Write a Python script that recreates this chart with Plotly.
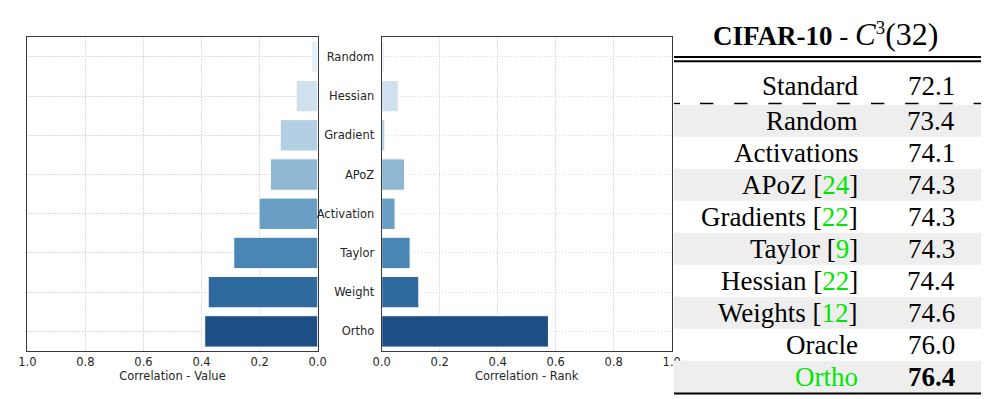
import plotly.graph_objects as go

# ---------------- data ----------------
categories = ["Random", "Hessian", "Gradient", "APoZ", "Activation", "Taylor", "Weight", "Ortho"]
corr_value = [0.021, 0.074, 0.129, 0.163, 0.202, 0.289, 0.377, 0.389]
corr_rank = [0.009, 0.057, 0.011, 0.079, 0.046, 0.098, 0.128, 0.575]
bar_colors = ["#e6eef7", "#cfe0ee", "#b3cfe3", "#8fb7d1", "#6a9ec4", "#4a86b4", "#2e6a9e", "#1d4f85"]
x_ticks = [0.0, 0.2, 0.4, 0.6, 0.8, 1.0]
x_tick_labels = ["0.0", "0.2", "0.4", "0.6", "0.8", "1.0"]

table_title = ("<b>CIFAR-10</b> - <span style='font-size:31px'><i>C</i></span>"
               "<sup>3</sup><span style='font-size:32px'>(32)</span>")
methods = ["Standard", "Random", "Activations", "APoZ", "Gradients", "Taylor", "Hessian", "Weights", "Oracle", "Ortho"]
method_refs = ["", "", "", "24", "22", "9", "22", "12", "", ""]
accuracy = [72.1, 73.4, 74.1, 74.3, 74.3, 74.3, 74.4, 74.6, 76.0, 76.4]

# ---------------- geometry helpers ----------------
W, H = 1002, 399


def px(x):
    return x / W


def py(y):
    return 1 - y / H


GREEN = "rgb(0,230,0)"
TEXT = "#262626"
GRID = "#dcdcdc"
FRAME = "#3a3a3a"
SANS = "DejaVu Sans"
SERIF = "Liberation Serif"

fig = go.Figure()

fig.add_trace(go.Bar(
    y=categories, x=corr_value, orientation="h", xaxis="x", yaxis="y",
    marker=dict(color=bar_colors, line=dict(color="white", width=1)),
    width=0.8, showlegend=False, hoverinfo="x+y",
))
fig.add_trace(go.Bar(
    y=categories, x=corr_rank, orientation="h", xaxis="x2", yaxis="y2",
    marker=dict(color=bar_colors, line=dict(color="white", width=1)),
    width=0.8, showlegend=False, hoverinfo="x+y",
))

ydom = [py(351), py(37.3)]
common_x = dict(
    tickvals=x_ticks, ticktext=x_tick_labels, showgrid=True, gridcolor=GRID,
    griddash="1.5px,1.5px", gridwidth=1, showline=True, mirror=True, linecolor=FRAME,
    linewidth=1.3, ticks="", zeroline=False, automargin=False,
    tickfont=dict(family=SANS, size=11.5, color=TEXT),
    title=dict(font=dict(family=SANS, size=11.5, color=TEXT), standoff=2),
)
common_y = dict(
    categoryorder="array", categoryarray=categories, range=[7.5, -0.5],
    showgrid=True, gridcolor=GRID, griddash="1.5px,1.5px", gridwidth=1,
    showline=True, mirror=True, linecolor=FRAME, linewidth=1.3, ticks="",
    zeroline=False, domain=ydom, automargin=False,
)

fig.update_layout(
    template="none",
    width=W, height=H, autosize=False,
    margin=dict(l=0, r=0, t=0, b=0, pad=0),
    paper_bgcolor="white", plot_bgcolor="white",
    xaxis=dict(common_x, domain=[px(27.3), px(317.7)], range=[1, 0], anchor="y",
               title_text="Correlation - Value"),
    yaxis=dict(common_y, anchor="x", showticklabels=False),
    xaxis2=dict(common_x, domain=[px(381.7), px(671.7)], range=[0, 1], anchor="y2",
                title_text="Correlation - Rank"),
    yaxis2=dict(common_y, anchor="x2", showticklabels=True,
                tickfont=dict(family=SANS, size=11.5, color=TEXT),
                ticklabelstandoff=4),
    bargap=0.2,
)

# ---------------- table ----------------
shapes = []
annotations = []
t_left, t_right = 673.5, 981
row_h = 32
first_top = 104.7

# shaded rows
for i in range(1, len(methods)):
    if i % 2 == 1:
        top = first_top + row_h * (i - 1)
        shapes.append(dict(type="rect", xref="paper", yref="paper",
                           x0=px(t_left), x1=px(t_right), y0=py(top + row_h), y1=py(top),
                           fillcolor="#eeeeee", line=dict(width=0), layer="above"))

# top double rule
for yy in (57.0, 61.2):
    shapes.append(dict(type="line", xref="paper", yref="paper",
                       x0=px(674), x1=px(t_right), y0=py(yy), y1=py(yy),
                       line=dict(color="black", width=2), layer="above"))
# bottom rule
shapes.append(dict(type="line", xref="paper", yref="paper",
                   x0=px(674), x1=px(t_right), y0=py(393.5), y1=py(393.5),
                   line=dict(color="black", width=2), layer="above"))
# dashed rule
shapes.append(dict(type="line", xref="paper", yref="paper",
                   x0=px(674), x1=px(680), y0=py(103.5), y1=py(103.5),
                   line=dict(color="black", width=1.3), layer="above"))
shapes.append(dict(type="line", xref="paper", yref="paper",
                   x0=px(700), x1=px(t_right), y0=py(103.5), y1=py(103.5),
                   line=dict(color="black", width=1.3, dash="13.3px,20.9px"), layer="above"))

annotations.append(dict(text=table_title, xref="paper", yref="paper",
                        x=px(825), y=py(34), xanchor="center", yanchor="middle",
                        showarrow=False, font=dict(family=SERIF, size=27, color="black")))

for i, (m, ref, acc) in enumerate(zip(methods, method_refs, accuracy)):
    if i == 0:
        yc = 86.5
    else:
        yc = first_top + row_h * (i - 1) + row_h / 2
    if m == "Ortho":
        label = f"<span style='color:{GREEN}'>{m}</span>"
    elif ref:
        label = f"{m} [<span style='color:{GREEN}'>{ref}</span>]"
    else:
        label = m
    val = f"{acc:.1f}"
    if i == len(methods) - 1:
        val = f"<b>{val}</b>"
    annotations.append(dict(text=label, xref="paper", yref="paper",
                            x=px(860), y=py(yc), xanchor="right", yanchor="middle",
                            showarrow=False, font=dict(family=SERIF, size=27, color="black")))
    annotations.append(dict(text=val, xref="paper", yref="paper",
                            x=px(957), y=py(yc), xanchor="right", yanchor="middle",
                            showarrow=False, font=dict(family=SERIF, size=27, color="black")))

fig.update_layout(shapes=shapes, annotations=annotations)

fig.write_html("out.html", config={"displayModeBar": False},
               post_script="document.body.style.margin='0';")
